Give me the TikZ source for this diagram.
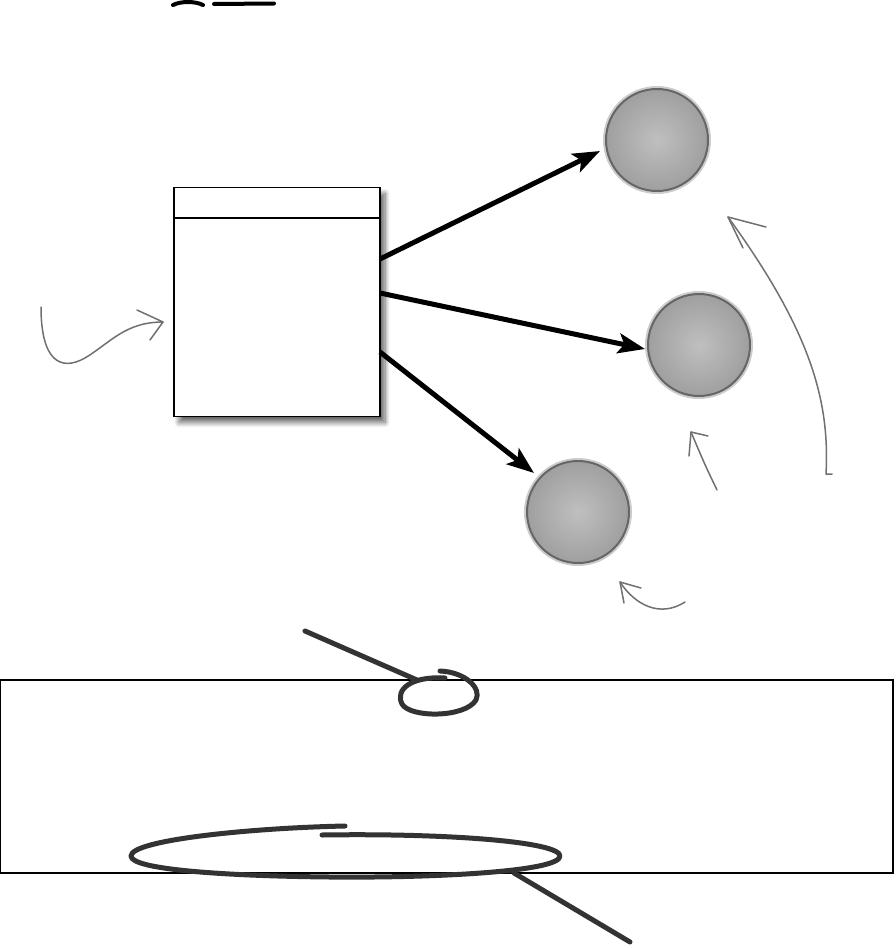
\documentclass[tikz,border=0pt]{standalone}
\usetikzlibrary{arrows.meta,shadows.blur}
\definecolor{note}{HTML}{707070}
\definecolor{marker}{HTML}{333333}
\begin{document}
\begin{tikzpicture}[x=1pt,y=-1pt,
  classbox/.style={draw, line width=1.2pt, fill=white, minimum width=206pt, minimum height=229pt, inner sep=0pt,
    blur shadow={shadow xshift=5pt, shadow yshift=-6pt, shadow blur radius=5pt, shadow blur steps=10, shadow opacity=60}},
  ball/.style={circle, minimum size=102pt, inner sep=0pt, inner color=gray!50, outer color=gray!75, shade,
    draw=black!60, line width=2pt, preaction={draw=gray!40, line width=6pt}},
  bigarrow/.style={line width=5pt, -{Stealth[length=27pt,width=20pt,inset=6pt]}},
  notearrow/.style={draw=note, line width=1.5pt, line cap=round, line join=round},
  markerline/.style={draw=marker, line width=5pt, line cap=round, line join=round},
  frame/.style={draw, line width=1.3pt}]
\useasboundingbox (0,0) rectangle (896,948);

% top marks
\draw[line width=4pt, line cap=round] (173,5) .. controls (181,1) and (195,1) .. (203,5);
\draw[line width=4pt, line cap=round] (214,4) -- (274,3.5);

% class box
\node[classbox] (cls) at (277,302) {};
\draw[line width=1.2pt] ([yshift=-31pt]cls.north west) -- ([yshift=-31pt]cls.north east);

% balls
\node[ball] (c1) at (657,140) {};
\node[ball] (c2) at (699,345) {};
\node[ball] (c3) at (578,512) {};

% arrows from box to balls
\coordinate (s1) at (380,259);
\coordinate (s2) at (380,293);
\coordinate (s3) at (380,352);
\coordinate (t1) at (600,151);
\coordinate (t2) at (645,349);
\coordinate (t3) at (534,473);
\draw[bigarrow] (s1) -- (t1);
\draw[bigarrow] (s2) -- (t2);
\draw[bigarrow] (s3) -- (t3);

% grey hand-drawn note arrows
\draw[notearrow] (41,307) .. controls (41,360) and (60,372) .. (85,358) .. controls (110,343) and (125,322) .. (163,322);
\draw[notearrow] (137,310) -- (163,322) -- (150,340);

\draw[notearrow] (832,474) -- (826,474) .. controls (830,400) and (810,330) .. (728,217);
\draw[notearrow] (766,227) -- (728,217) -- (743,248);

\draw[notearrow] (717,490) .. controls (705,465) .. (691,432);
\draw[notearrow] (708,436) -- (691,432) -- (689,456);

\draw[notearrow] (685,602) .. controls (660,618) and (635,605) .. (620,582);
\draw[notearrow] (641,588) -- (620,582) -- (624,603);

% bottom frame
\draw[frame] (0.7,680) rectangle (893,873);

% marker strokes
\draw[markerline] (305,631) -- (417,680);
\draw[markerline] (445,678) .. controls (410,676) and (395,690) .. (402,704) .. controls (410,718) and (465,718) .. (476,700) .. controls (482,688) and (465,672) .. (440,671);
\draw[markerline] (322,835) .. controls (450,833) and (560,842) .. (560,856) .. controls (560,872) and (430,878) .. (330,877) .. controls (230,876) and (131,870) .. (131,856) .. controls (131,840) and (250,828) .. (345,826);
\draw[markerline] (514,873) -- (630,942);
\end{tikzpicture}
\end{document}
